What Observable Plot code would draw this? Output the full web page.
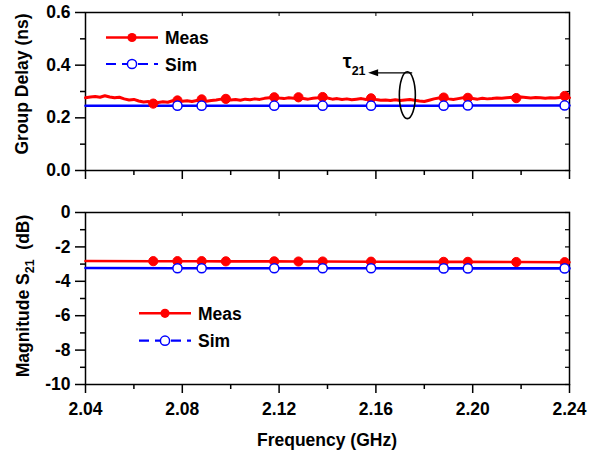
<!DOCTYPE html>
<html>
<head>
<meta charset="utf-8">
<script src="https://cdn.jsdelivr.net/npm/d3@7"></script>
<script src="https://cdn.jsdelivr.net/npm/@observablehq/plot@0.6"></script>
<style>
  body { margin: 0; background: #fff; }
  #chart { position: relative; width: 605px; height: 453px; }
  #chart svg { position: absolute; left: 0; overflow: visible; }
</style>
</head>
<body>
<div id="chart"></div>
<script>
// ---- measured sweep, 2.040 to 2.240 GHz in 2 MHz steps ----
const sweepGHz = d3.range(0, 101).map(i => +(2.04 + i * 0.002).toFixed(3));
const delayMeas = [
  0.276, 0.279, 0.281, 0.278, 0.284, 0.279, 0.276, 0.278, 0.272, 0.268,
  0.270, 0.264, 0.260, 0.262, 0.254, 0.258, 0.261, 0.259, 0.265, 0.266,
  0.263, 0.265, 0.262, 0.266, 0.270, 0.263, 0.266, 0.268, 0.271, 0.272,
  0.268, 0.270, 0.267, 0.271, 0.269, 0.272, 0.270, 0.274, 0.276, 0.278,
  0.275, 0.273, 0.276, 0.274, 0.278, 0.273, 0.271, 0.274, 0.276, 0.279,
  0.275, 0.271, 0.273, 0.270, 0.272, 0.269, 0.271, 0.273, 0.270, 0.274,
  0.270, 0.267, 0.268, 0.266, 0.269, 0.266, 0.268, 0.270, 0.267, 0.264,
  0.262, 0.267, 0.272, 0.275, 0.277, 0.272, 0.270, 0.273, 0.276, 0.276,
  0.273, 0.271, 0.274, 0.272, 0.273, 0.275, 0.274, 0.276, 0.278, 0.275,
  0.279, 0.277, 0.275, 0.277, 0.276, 0.274, 0.276, 0.275, 0.277, 0.283,
  0.276
];
const measMarkGHz = [2.068, 2.078, 2.088, 2.098, 2.118, 2.128, 2.138, 2.158, 2.188, 2.198, 2.218, 2.238];

// ---- measured |S21| ----
const s21MeasGHz = [2.04, 2.068, 2.078, 2.088, 2.098, 2.118, 2.128, 2.138, 2.158, 2.188, 2.198, 2.218, 2.238, 2.24];
const s21Meas    = [-2.82, -2.83, -2.83, -2.83, -2.84, -2.84, -2.85, -2.85, -2.86, -2.87, -2.87, -2.88, -2.89, -2.89];

// ---- simulation ----
const simGHz    = [2.04, 2.078, 2.088, 2.118, 2.138, 2.158, 2.188, 2.198, 2.238, 2.24];
const delaySim  = [0.246, 0.246, 0.246, 0.246, 0.246, 0.246, 0.246, 0.247, 0.247, 0.247];
const s21Sim    = [-3.23, -3.24, -3.24, -3.24, -3.24, -3.24, -3.25, -3.25, -3.25, -3.25];
const simMarkGHz = [2.078, 2.088, 2.118, 2.138, 2.158, 2.188, 2.198, 2.238];

// ---- axes ----
const freqTicks  = [2.04, 2.08, 2.12, 2.16, 2.20, 2.24];
const freqMinor  = [2.06, 2.10, 2.14, 2.18, 2.22];
const delayTicks = [0, 0.2, 0.4, 0.6];
const delayMinor = [0.1, 0.3, 0.5];
const s21Ticks   = [0, -2, -4, -6, -8, -10];
const s21Minor   = [-1, -3, -5, -7, -9];

const RED = "#ff0000", BLUE = "#0000ff";
const FONT = '"Liberation Sans", Arial, Helvetica, sans-serif';

const near = (list) => d => list.some(v => Math.abs(v - d.f) < 1e-6);

const delayMeasRows = sweepGHz.map((f, i) => ({f, v: delayMeas[i]}));
const delaySimRows  = simGHz.map((f, i) => ({f, v: delaySim[i]}));
const s21MeasRows   = s21MeasGHz.map((f, i) => ({f, v: s21Meas[i]}));
const s21SimRows    = simGHz.map((f, i) => ({f, v: s21Sim[i]}));

const blank = () => "";

function panel({yDomain, yMajor, yMinor, yFormat, xLabels, height, marginTop, marginBottom, meas, sim, measWidth}) {
  return Plot.plot({
    width: 605,
    height,
    marginLeft: 85,
    marginRight: 36,
    marginTop,
    marginBottom,
    style: {fontFamily: FONT, fontSize: "17.5px", fontWeight: "bold", color: "#000", background: "transparent", overflow: "visible"},
    x: {domain: [2.04, 2.24]},
    y: {domain: yDomain},
    marks: [
      Plot.frame({stroke: "#000", strokeWidth: 1.5}),
      // left axis: labelled majors and short minors, pointing out
      Plot.axisY(yMajor, {anchor: "left", tickSize: 10, tickPadding: 5, tickFormat: yFormat, label: null, strokeWidth: 1.5, fontSize: 17.5, fontWeight: "bold"}),
      Plot.axisY(yMinor, {anchor: "left", tickSize: 5, tickFormat: blank, label: null, strokeWidth: 1.5}),
      // right axis: short inward ticks
      Plot.axisY([...yMajor, ...yMinor], {anchor: "right", tickSize: -5, tickFormat: blank, label: null, strokeWidth: 1.2}),
      // bottom axis
      Plot.axisX(freqTicks, {anchor: "bottom", tickSize: 9, tickPadding: 9, tickFormat: xLabels ? d3.format(".2f") : blank, label: null, strokeWidth: 1.5, fontSize: 17.5, fontWeight: "bold"}),
      Plot.axisX(freqMinor, {anchor: "bottom", tickSize: 5, tickFormat: blank, label: null, strokeWidth: 1.5}),
      // top axis: small inward ticks
      Plot.axisX(freqTicks, {anchor: "top", tickSize: -3, tickFormat: blank, label: null, strokeWidth: 1}),
      // traces
      Plot.line(sim, {x: "f", y: "v", stroke: BLUE, strokeWidth: 2.6}),
      Plot.line(meas, {x: "f", y: "v", stroke: RED, strokeWidth: measWidth, strokeLinejoin: "round"}),
      Plot.dot(meas.filter(near(measMarkGHz)), {x: "f", y: "v", r: 4.6, fill: RED, stroke: RED, strokeWidth: 1}),
      Plot.dot(sim.filter(near(simMarkGHz)), {x: "f", y: "v", r: 4.6, fill: "#fff", stroke: BLUE, strokeWidth: 1.5})
    ]
  });
}

const chart = d3.select("#chart");

// ---------- group delay ----------
const delayPlot = panel({
  yDomain: [0, 0.6], yMajor: delayTicks, yMinor: delayMinor, yFormat: d3.format(".1f"),
  xLabels: false, height: 190, marginTop: 12, marginBottom: 20,
  meas: delayMeasRows, sim: delaySimRows, measWidth: 3
});
delayPlot.style.top = "0px";
chart.node().appendChild(delayPlot);

// ---------- |S21| ----------
const s21Plot = panel({
  yDomain: [-10, 0], yMajor: s21Ticks, yMinor: s21Minor, yFormat: d => `${d}`,
  xLabels: true, height: 263, marginTop: 22, marginBottom: 69,
  meas: s21MeasRows, sim: s21SimRows, measWidth: 2.6
});
s21Plot.style.top = "190px";
chart.node().appendChild(s21Plot);

// ---------- titles, legends, annotation ----------
function addText(svg, {x, y, text, size = 17.5, anchor = "start", rotate = 0}) {
  const t = svg.append("text")
    .attr("transform", `translate(${x},${y}) rotate(${rotate})`)
    .attr("text-anchor", anchor)
    .attr("font-family", FONT)
    .attr("font-weight", "bold")
    .attr("font-size", size)
    .attr("fill", "#000");
  if (text != null) t.text(text);
  return t;
}

function legend(svg, x0, x1, yMeas, ySim) {
  const g = svg.append("g");
  const xm = (x0 + x1) / 2;
  g.append("line").attr("x1", x0).attr("x2", x1).attr("y1", yMeas).attr("y2", yMeas)
    .attr("stroke", RED).attr("stroke-width", 2.6);
  g.append("circle").attr("cx", xm).attr("cy", yMeas).attr("r", 4.6).attr("fill", RED);
  addText(g, {x: x1 + 7, y: yMeas + 6.5, text: "Meas"});
  g.append("line").attr("x1", x0).attr("x2", x1).attr("y1", ySim).attr("y2", ySim)
    .attr("stroke", BLUE).attr("stroke-width", 2.2).attr("stroke-dasharray", "10,6");
  g.append("circle").attr("cx", xm).attr("cy", ySim).attr("r", 4.6)
    .attr("fill", "#fff").attr("stroke", BLUE).attr("stroke-width", 1.5);
  addText(g, {x: x1 + 7, y: ySim + 6.5, text: "Sim"});
}

const delaySvg = d3.select(delayPlot);
const s21Svg = d3.select(s21Plot);

// y titles
addText(delaySvg, {x: 28, y: 84, text: "Group Delay (ns)", size: 17.5, anchor: "middle", rotate: -90});
const magTitle = addText(s21Svg, {x: 29, y: 106, size: 17.5, anchor: "middle", rotate: -90});
magTitle.append("tspan").text("Magnitude S");
magTitle.append("tspan").attr("font-size", 12.5).attr("dy", 5).text("21");
magTitle.append("tspan").attr("dy", -5).text("\u00a0 (dB)");

// x title
addText(s21Svg, {x: 327, y: 255.5, text: "Frequency (GHz)", size: 17.5, anchor: "middle"});

// legends
legend(delaySvg, 106, 158, 37.5, 64);
legend(s21Svg, 139, 191, 123.3, 150.7);

// tau_21 annotation: ellipse around both delay traces, arrow pointing at the label
{
  const x = delayPlot.scale("x").apply, y = delayPlot.scale("y").apply;
  const cx = x(2.1732), cy = y(0.284);
  const ry = cy - y(0.373);
  delaySvg.append("ellipse").attr("cx", cx).attr("cy", cy).attr("rx", 8).attr("ry", ry)
    .attr("fill", "none").attr("stroke", "#000").attr("stroke-width", 1.6);
  const ya = y(0.369), xa0 = x(2.1752), xa1 = x(2.1570);
  delaySvg.append("line").attr("x1", xa0).attr("x2", xa1 + 8).attr("y1", ya).attr("y2", ya)
    .attr("stroke", "#000").attr("stroke-width", 1.3);
  delaySvg.append("path")
    .attr("d", `M${xa1},${ya} L${xa1 + 10},${ya - 3.5} L${xa1 + 10},${ya + 3.5} Z`)
    .attr("fill", "#000");
  const tau = addText(delaySvg, {x: x(2.1465), y: y(0.388), size: 20});
  tau.append("tspan").text("\u03c4");
  tau.append("tspan").attr("font-size", 12.5).attr("dy", 7).text("21");
}
</script>
</body>
</html>
